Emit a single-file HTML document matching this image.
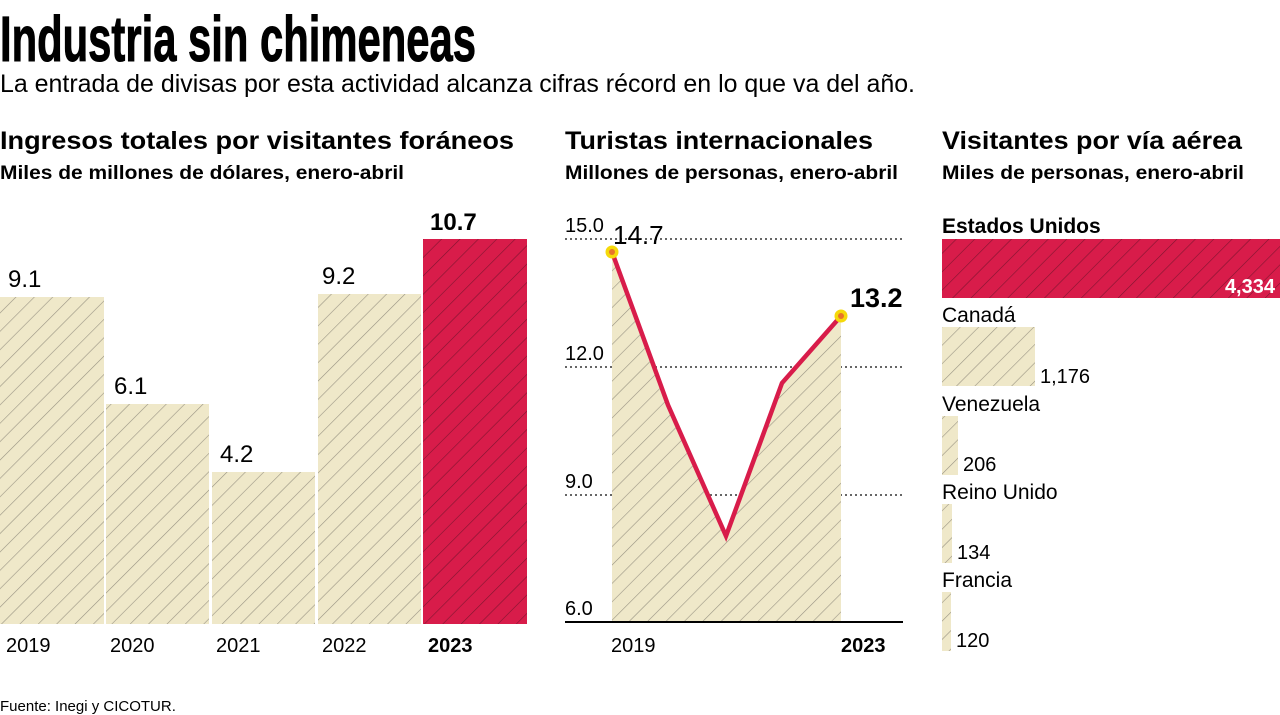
<!DOCTYPE html>
<html><head><meta charset="utf-8"><style>html,body{margin:0;padding:0;background:#fff}svg{display:block}</style></head>
<body>
<svg width="1280" height="715" viewBox="0 0 1280 715" xmlns="http://www.w3.org/2000/svg" font-family="Liberation Sans, sans-serif">
<defs>
<pattern id="hb" patternUnits="userSpaceOnUse" width="13" height="13" patternTransform="rotate(45)">
<rect width="13" height="13" fill="#efe8c9"/><line x1="0" y1="0" x2="0" y2="13" stroke="#999383" stroke-width="1.2"/></pattern>
<pattern id="hr" patternUnits="userSpaceOnUse" width="13" height="13" patternTransform="rotate(45)">
<rect width="13" height="13" fill="#d81c4a"/><line x1="0" y1="0" x2="0" y2="13" stroke="#801530" stroke-width="1.2"/></pattern>
</defs>
<text x="0" y="61" font-size="64" font-weight="bold" textLength="476" lengthAdjust="spacingAndGlyphs" font-family="Liberation Sans Narrow, Liberation Sans, sans-serif" stroke="#000" stroke-width="1">Industria sin chimeneas</text>
<text x="0" y="92" font-size="25" textLength="915" lengthAdjust="spacingAndGlyphs">La entrada de divisas por esta actividad alcanza cifras récord en lo que va del año.</text>

<g font-weight="bold">
<text x="0" y="149" font-size="25" textLength="514" lengthAdjust="spacingAndGlyphs">Ingresos  totales por visitantes foráneos</text>
<text x="565" y="149" font-size="25" textLength="308" lengthAdjust="spacingAndGlyphs">Turistas internacionales</text>
<text x="942" y="149" font-size="25" textLength="300" lengthAdjust="spacingAndGlyphs">Visitantes por vía aérea</text>
<text x="0" y="179" font-size="19" textLength="404" lengthAdjust="spacingAndGlyphs">Miles de millones de dólares, enero-abril</text>
<text x="565" y="179" font-size="19" textLength="333" lengthAdjust="spacingAndGlyphs">Millones de personas, enero-abril</text>
<text x="942" y="179" font-size="19" textLength="302" lengthAdjust="spacingAndGlyphs">Miles de personas, enero-abril</text>
</g>

<rect x="0" y="297" width="104" height="327" fill="url(#hb)"/>
<rect x="106" y="404" width="103" height="220" fill="url(#hb)"/>
<rect x="212" y="472" width="103" height="152" fill="url(#hb)"/>
<rect x="318" y="294" width="103" height="330" fill="url(#hb)"/>
<rect x="423" y="239" width="104" height="385" fill="url(#hr)"/>
<g font-size="24">
<text x="8" y="287">9.1</text>
<text x="114" y="394">6.1</text>
<text x="220" y="462">4.2</text>
<text x="322" y="284">9.2</text>
<text x="430" y="230" font-weight="bold">10.7</text>
</g>
<g font-size="20">
<text x="6" y="652">2019</text>
<text x="110" y="652">2020</text>
<text x="216" y="652">2021</text>
<text x="322" y="652">2022</text>
<text x="428" y="652" font-weight="bold">2023</text>
</g>

<g stroke="#333" stroke-width="1.5" stroke-dasharray="2,3">
<line x1="565" y1="239" x2="903" y2="239"/>
<line x1="565" y1="367" x2="903" y2="367"/>
<line x1="565" y1="495" x2="903" y2="495"/>
</g>
<polygon points="612,252 668,405 726,536 782,383 841,316 841,622 612,622" fill="url(#hb)"/>
<line x1="565" y1="622" x2="903" y2="622" stroke="#000" stroke-width="2"/>
<polyline points="612,252 668,405 726,536 782,383 841,316" fill="none" stroke="#d81c4a" stroke-width="4.5"/>
<circle cx="612" cy="252" r="6.5" fill="#f5d90a"/><circle cx="612" cy="252" r="3" fill="#e8742a"/>
<circle cx="841" cy="316" r="6.5" fill="#f5d90a"/><circle cx="841" cy="316" r="3" fill="#e8742a"/>
<g font-size="20">
<text x="565" y="232">15.0</text>
<text x="565" y="360">12.0</text>
<text x="565" y="488">9.0</text>
<text x="565" y="615">6.0</text>
</g>
<text x="613" y="244" font-size="26">14.7</text>
<text x="850" y="307" font-size="27" font-weight="bold">13.2</text>
<text x="611" y="652" font-size="20">2019</text>
<text x="841" y="652" font-size="20" font-weight="bold">2023</text>

<text x="942" y="233" font-size="21" font-weight="bold">Estados Unidos</text>
<rect x="942" y="239" width="338" height="59" fill="url(#hr)"/>
<text x="1275" y="293" font-size="20" font-weight="bold" fill="#fff" text-anchor="end">4,334</text>
<g font-size="21">
<text x="942" y="322">Canadá</text>
<text x="942" y="411">Venezuela</text>
<text x="942" y="499">Reino Unido</text>
<text x="942" y="587">Francia</text>
</g>
<rect x="942" y="327" width="93" height="59" fill="url(#hb)"/>
<rect x="942" y="416" width="16" height="59" fill="url(#hb)"/>
<rect x="942" y="504" width="10" height="59" fill="url(#hb)"/>
<rect x="942" y="592" width="9" height="59" fill="url(#hb)"/>
<g font-size="20">
<text x="1040" y="383">1,176</text>
<text x="963" y="471">206</text>
<text x="957" y="559">134</text>
<text x="956" y="647">120</text>
</g>

<text x="0" y="711" font-size="15">Fuente: Inegi y CICOTUR.</text>
</svg>
</body></html>
